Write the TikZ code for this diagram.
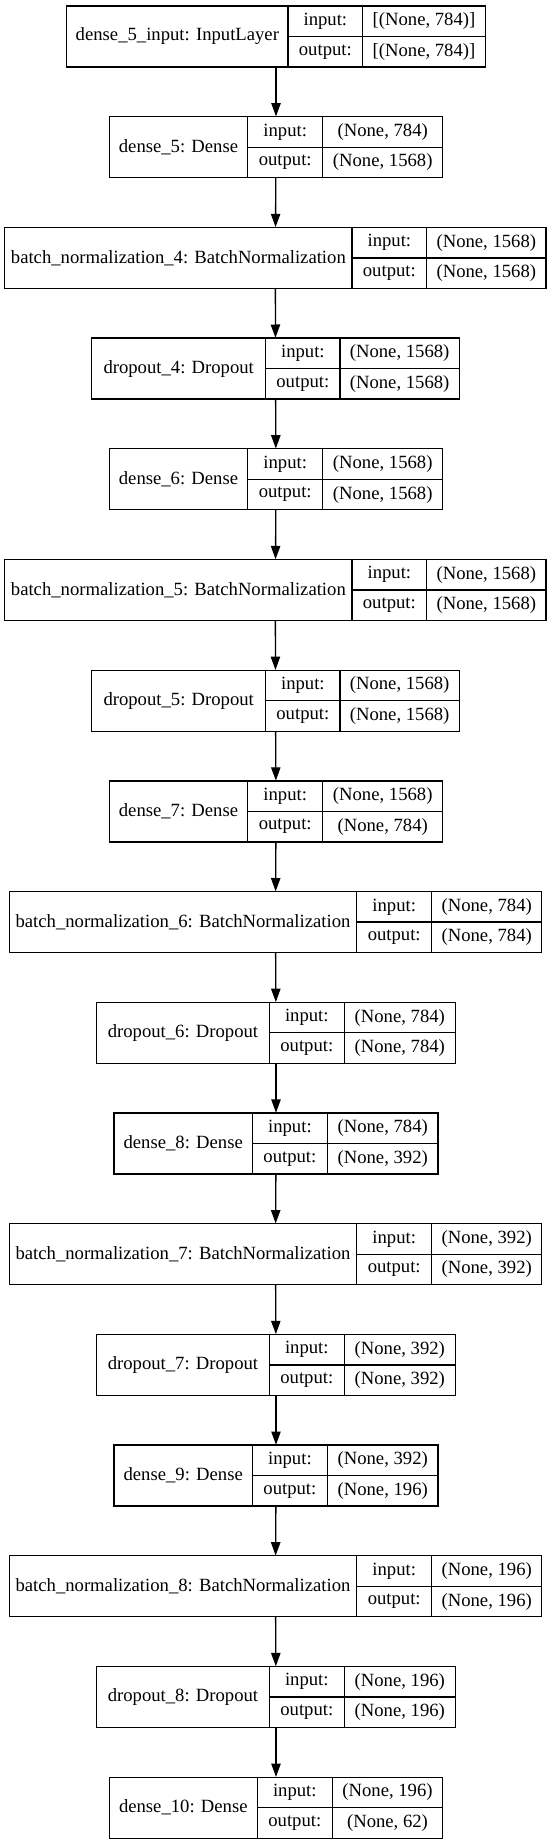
\documentclass[tikz,border=0pt]{standalone}
\usepackage{fontspec}
\setmainfont{Liberation Serif}
\usetikzlibrary{arrows.meta}

\begin{document}
\begin{tikzpicture}[
    x=0.75pt, y=-0.75pt,
    cell/.style={rectangle, draw, line width=1pt, inner sep=0pt, minimum height=22.875pt, font=\fontsize{14}{16}\selectfont},
    namecell/.style={cell, minimum height=45.75pt},
    layer/.style={rectangle, inner sep=0pt, minimum height=45.75pt},
    arrow/.style={-{Triangle[length=10pt, width=7pt]}, line width=1pt}
]
    \useasboundingbox (0,0) rectangle (552,1844);

    % Layers: node/label/left/name-input/input-shape/right/input shape/output shape
    \foreach \n/\lab/\a/\b/\c/\d/\i/\o [count=\k from 0] in {
        input/{dense\_5\_input: InputLayer}/66.7/288/362.7/485.3/{[(None, 784)]}/{[(None, 784)]},
        dense5/{dense\_5: Dense}/109.3/247.7/322.7/442.7/{(None, 784)}/{(None, 1568)},
        bn4/{batch\_normalization\_4: BatchNormalization}/4.7/352/426.7/546/{(None, 1568)}/{(None, 1568)},
        drop4/{dropout\_4: Dropout}/91.7/265.7/340/459.3/{(None, 1568)}/{(None, 1568)},
        dense6/{dense\_6: Dense}/109.3/247.7/322.7/442.7/{(None, 1568)}/{(None, 1568)},
        bn5/{batch\_normalization\_5: BatchNormalization}/4.7/352/426.7/546/{(None, 1568)}/{(None, 1568)},
        drop5/{dropout\_5: Dropout}/91.7/265.7/340/459.3/{(None, 1568)}/{(None, 1568)},
        dense7/{dense\_7: Dense}/109.3/247.7/322.7/442.7/{(None, 1568)}/{(None, 784)},
        bn6/{batch\_normalization\_6: BatchNormalization}/9.3/356.7/431.7/541.7/{(None, 784)}/{(None, 784)},
        drop6/{dropout\_6: Dropout}/96.7/269.3/344.3/455.3/{(None, 784)}/{(None, 784)},
        dense8/{dense\_8: Dense}/114/252.4/327.4/438/{(None, 784)}/{(None, 392)},
        bn7/{batch\_normalization\_7: BatchNormalization}/9.3/356.7/431.7/541.7/{(None, 392)}/{(None, 392)},
        drop7/{dropout\_7: Dropout}/96.7/269.3/344.3/455.3/{(None, 392)}/{(None, 392)},
        dense9/{dense\_9: Dense}/114/252.4/327.4/438/{(None, 392)}/{(None, 196)},
        bn8/{batch\_normalization\_8: BatchNormalization}/9.3/356.7/431.7/541.7/{(None, 196)}/{(None, 196)},
        drop8/{dropout\_8: Dropout}/96.7/269.3/344.3/455.3/{(None, 196)}/{(None, 196)},
        dense10/{dense\_10: Dense}/109.3/257.3/332.3/442.7/{(None, 196)}/{(None, 62)}%
    }{
        \pgfmathsetmacro{\t}{6+110.7*\k}
        \node[layer, minimum width={(\d-\a)*0.75pt}] (\n) at ({(\a+\d)/2}, {\t+30.5}) {};
        \node[namecell, minimum width={(\b-\a)*0.75pt}] (\n-name) at ({(\a+\b)/2}, {\t+30.5}) {\lab};
        \node[cell, minimum width={(\c-\b)*0.75pt}] (\n-in) at ({(\b+\c)/2}, {\t+15.25}) {input:};
        \node[cell, minimum width={(\d-\c)*0.75pt}] (\n-inshape) at ({(\c+\d)/2}, {\t+15.25}) {\i};
        \node[cell, minimum width={(\c-\b)*0.75pt}] (\n-out) at ({(\b+\c)/2}, {\t+45.75}) {output:};
        \node[cell, minimum width={(\d-\c)*0.75pt}] (\n-outshape) at ({(\c+\d)/2}, {\t+45.75}) {\o};
    }

    % Connections
    \foreach \p/\q in {input/dense5, dense5/bn4, bn4/drop4, drop4/dense6, dense6/bn5, bn5/drop5,
        drop5/dense7, dense7/bn6, bn6/drop6, drop6/dense8, dense8/bn7, bn7/drop7,
        drop7/dense9, dense9/bn8, bn8/drop8, drop8/dense10}
        \draw[arrow] (\p) -- (\q);
\end{tikzpicture}
\end{document}
